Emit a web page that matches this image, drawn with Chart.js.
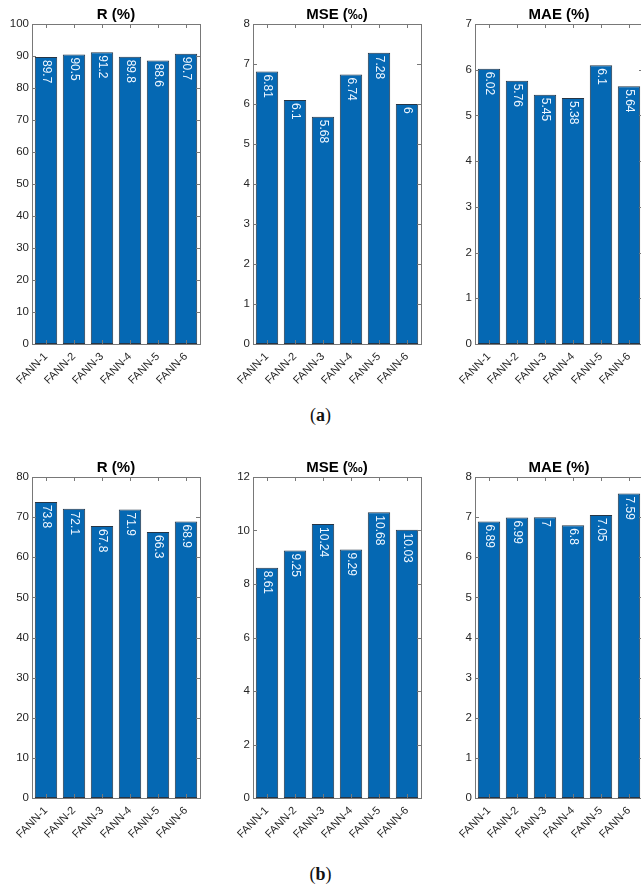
<!DOCTYPE html>
<html>
<head>
<meta charset="utf-8">
<script src="https://cdn.jsdelivr.net/npm/chart.js@4/dist/chart.umd.min.js"></script>
<style>
  html, body { margin: 0; padding: 0; background: #fff; }
  body { width: 641px; height: 887px; overflow: hidden; position: relative; }
  .panel { position: absolute; }
  .caption {
    position: absolute; width: 641px; left: 0; text-align: center;
    font-family: "Liberation Serif", "DejaVu Serif", serif; font-size: 18px; color: #111;
  }
</style>
</head>
<body>
<div class="caption" style="top:405px">(<b>a</b>)</div>
<div class="caption" style="top:864px">(<b>b</b>)</div>
<script>
"use strict";

// ── Data ────────────────────────────────────────────────────────────────────
const MODELS = ["FANN-1", "FANN-2", "FANN-3", "FANN-4", "FANN-5", "FANN-6"];

const R_A   = [89.7, 90.5, 91.2, 89.8, 88.6, 90.7];
const MSE_A = [6.81, 6.1, 5.68, 6.74, 7.28, 6];
const MAE_A = [6.02, 5.76, 5.45, 5.38, 6.1, 5.64];

const R_B   = [73.8, 72.1, 67.8, 71.9, 66.3, 68.9];
const MSE_B = [8.61, 9.25, 10.24, 9.29, 10.68, 10.03];
const MAE_B = [6.89, 6.99, 7, 6.8, 7.05, 7.59];

// y-axis limits and tick steps, same order as the panels below
const Y_MAX  = [100, 8, 7, 80, 12, 8];
const Y_STEP = [10, 1, 1, 10, 2, 1];
const TITLES = ["R (%)", "MSE (‰)", "MAE (%)", "R (%)", "MSE (‰)", "MAE (%)"];

// ── Style ───────────────────────────────────────────────────────────────────
const BAR_BLUE  = "#0568b3";
const BAR_EDGE  = "#263545";
const AXIS_GREY = "#787878";
const TEXT_DARK = "#262626";
const FONT      = "'Liberation Sans', Arial, sans-serif";

// plot-area boxes (left, top, height); all plots are 168px wide
const COL_LEFT = [32, 253, 475];
const ROW_TOP  = [24, 477];
const ROW_H    = [320, 321];
const PLOT_W   = 168;
const Y_AXIS_W = 32;
const X_AXIS_H = 55;
const TITLE_H  = 24;

// MATLAB-ish box with inward ticks, title and rotated value labels
const axesBox = {
  id: "axesBox",
  afterDatasetsDraw(chart, args, opts) {
    const { ctx, chartArea: a, scales } = chart;
    ctx.save();
    ctx.strokeStyle = AXIS_GREY;
    ctx.lineWidth = 1;
    ctx.beginPath();
    scales.y.ticks.forEach(t => {
      const y = Math.round(scales.y.getPixelForValue(t.value)) + 0.5;
      ctx.moveTo(a.left, y); ctx.lineTo(a.left + 4, y);
      ctx.moveTo(a.right, y); ctx.lineTo(a.right - 4, y);
    });
    scales.x.ticks.forEach((t, i) => {
      const x = Math.round(scales.x.getPixelForTick(i)) + 0.5;
      ctx.moveTo(x, a.bottom); ctx.lineTo(x, a.bottom - 4);
      ctx.moveTo(x, a.top); ctx.lineTo(x, a.top + 4);
    });
    ctx.stroke();
    ctx.strokeRect(Math.round(a.left) + 0.5, Math.round(a.top) + 0.5,
      Math.round(a.right - a.left), Math.round(a.bottom - a.top));

    // value labels, reading top-to-bottom inside each bar
    const meta = chart.getDatasetMeta(0);
    const values = chart.data.datasets[0].data;
    ctx.fillStyle = "#eef6ff";
    ctx.font = "12px " + FONT;
    ctx.textAlign = "left";
    ctx.textBaseline = "middle";
    meta.data.forEach((bar, i) => {
      ctx.save();
      ctx.translate(bar.x, bar.y + 3);
      ctx.rotate(Math.PI / 2);
      ctx.fillText(String(values[i]), 0, 0);
      ctx.restore();
    });

    // title
    ctx.fillStyle = "#000";
    ctx.font = "bold 15px " + FONT;
    ctx.textAlign = "center";
    ctx.fillText(opts.text, (a.left + a.right) / 2, a.top - 9.5);
    ctx.restore();
  },
};

function makePanel(idx, values) {
  const row = Math.floor(idx / 3), col = idx % 3;
  const w = Y_AXIS_W + PLOT_W + 6;
  const h = TITLE_H + ROW_H[row] + X_AXIS_H;

  const box = document.createElement("div");
  box.className = "panel";
  box.style.left = (COL_LEFT[col] - Y_AXIS_W) + "px";
  box.style.top = (ROW_TOP[row] - TITLE_H) + "px";
  box.style.width = w + "px";
  box.style.height = h + "px";
  const canvas = document.createElement("canvas");
  canvas.width = w;
  canvas.height = h;
  box.appendChild(canvas);
  document.body.appendChild(box);

  new Chart(canvas, {
    type: "bar",
    data: {
      labels: MODELS,
      datasets: [{
        data: values,
        backgroundColor: BAR_BLUE,
        borderColor: BAR_EDGE,
        borderWidth: 1,
        borderSkipped: false,
        barPercentage: 0.8,
        categoryPercentage: 1,
      }],
    },
    options: {
      responsive: false,
      animation: false,
      layout: { autoPadding: false, padding: { top: TITLE_H, right: 6, left: 0, bottom: 0 } },
      plugins: {
        legend: { display: false },
        tooltip: { enabled: false },
        axesBox: { text: TITLES[idx] },
      },
      scales: {
        x: {
          grid: { display: false, drawTicks: false },
          border: { display: false },
          ticks: {
            autoSkip: false, minRotation: 45, maxRotation: 45, padding: 6,
            color: TEXT_DARK, font: { family: FONT, size: 11 },
          },
          afterFit: s => { s.height = X_AXIS_H; },
        },
        y: {
          min: 0, max: Y_MAX[idx],
          grid: { display: false, drawTicks: false },
          border: { display: false },
          ticks: {
            stepSize: Y_STEP[idx], padding: 3,
            color: TEXT_DARK, font: { family: FONT, size: 11.5 },
          },
          afterFit: s => { s.width = Y_AXIS_W; },
        },
      },
    },
    plugins: [axesBox],
  });
}

[R_A, MSE_A, MAE_A, R_B, MSE_B, MAE_B].forEach((vals, i) => makePanel(i, vals));
</script>
</body>
</html>
